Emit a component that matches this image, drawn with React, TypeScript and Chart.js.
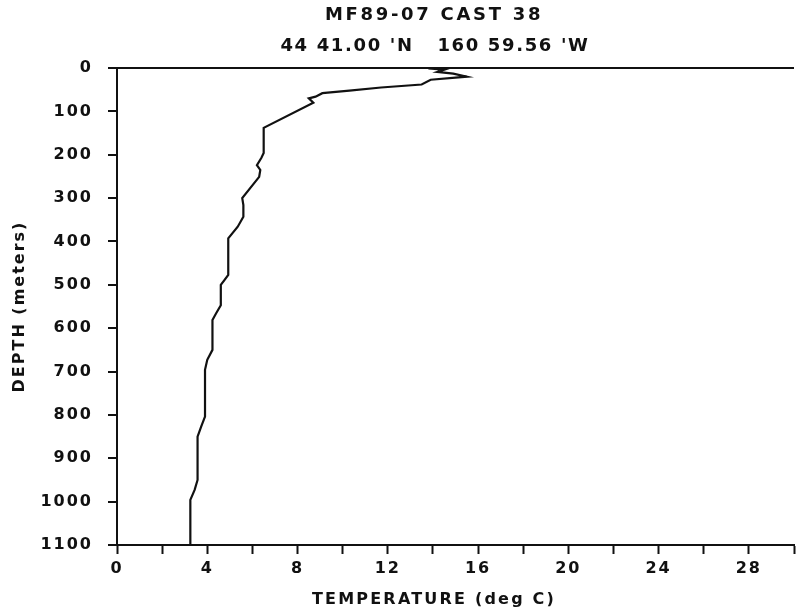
import React, { useEffect, useRef } from 'react';
import { Chart, registerables } from 'chart.js';

Chart.register(...registerables);

// Profile data (depth in metres, temperature in deg C)
const depthM = [1, 4, 9, 13, 20, 27, 38, 45, 52, 58, 66, 70, 80, 138, 196, 207, 224, 235, 251, 300, 316, 343, 366, 393, 477, 489, 500, 547, 565, 581, 650, 673, 696, 804, 827, 850, 950, 973, 996, 1100];
const temperatureC = [13.8, 14.5, 14.2, 14.9, 15.5, 13.9, 13.5, 11.7, 10.3, 9.1, 8.8, 8.5, 8.7, 6.5, 6.5, 6.4, 6.2, 6.35, 6.3, 5.55, 5.6, 5.6, 5.35, 4.93, 4.93, 4.76, 4.6, 4.6, 4.4, 4.23, 4.23, 4.0, 3.9, 3.9, 3.73, 3.57, 3.57, 3.44, 3.25, 3.25];

const titleLines = ['MF89-07 CAST 38', "44 41.00 'N   160 59.56 'W"];
const xAxisTitle = 'TEMPERATURE (deg C)';
const yAxisTitle = 'DEPTH (meters)';

const xRange = [0, 30];
const xTickStep = 2;
const xLabelEvery = 4;
const yRange = [0, 1100];
const yTickStep = 100;

const INK = '#111';
const FONT = '"DejaVu Sans", sans-serif';

export default function App() {
  const ref = useRef<HTMLCanvasElement>(null);

  useEffect(() => {
    const prevMargin = document.body.style.margin;
    document.body.style.margin = '0';
    const canvas = ref.current;
    if (!canvas) return;

    const plotterText = {
      id: 'plotterText',
      beforeUpdate(chart: any) {
        chart.ctx.letterSpacing = '2px';
      },
      beforeDraw(chart: any) {
        const ctx = chart.ctx;
        ctx.save();
        ctx.fillStyle = '#fff';
        ctx.fillRect(0, 0, chart.width, chart.height);
        ctx.restore();
        ctx.letterSpacing = '2px';
      },
      afterDraw(chart: any) {
        const ctx = chart.ctx;
        ctx.save();
        ctx.fillStyle = INK;
        ctx.textAlign = 'center';
        ctx.textBaseline = 'middle';
        ctx.font = `bold 18px ${FONT}`;
        ctx.letterSpacing = '2.7px';
        ctx.fillText(titleLines[0], 434, 15);
        ctx.letterSpacing = '1.65px';
        ctx.fillText(titleLines[1], 435, 46);
        ctx.font = `bold 16px ${FONT}`;
        ctx.letterSpacing = '2.2px';
        ctx.fillText(xAxisTitle, 434, 600);
        ctx.restore();
      },
    };

    const chart = new Chart(canvas, {
      type: 'scatter',
      data: {
        datasets: [
          {
            data: depthM.map((d, i) => ({ x: temperatureC[i], y: d })),
            showLine: true,
            borderColor: INK,
            borderWidth: 2.2,
            pointRadius: 0,
            pointHoverRadius: 0,
            tension: 0,
            fill: false,
          },
        ],
      },
      options: {
        responsive: false,
        animation: false,
        devicePixelRatio: 1,
        layout: { padding: { top: 68, right: 1, left: 0, bottom: 0 } },
        plugins: {
          legend: { display: false },
          tooltip: { enabled: false },
          title: { display: false },
        },
        scales: {
          x: {
            type: 'linear',
            position: 'bottom',
            min: xRange[0],
            max: xRange[1],
            afterFit: (s: any) => { s.height = 70; },
            ticks: {
              stepSize: xTickStep,
              autoSkip: false,
              maxRotation: 0,
              padding: 5,
              color: INK,
              font: { family: FONT, size: 16, weight: 'bold' },
              callback: (v: any) => (Number(v) % xLabelEvery === 0 ? String(v) : ''),
            },
            grid: {
              display: true,
              drawOnChartArea: false,
              drawTicks: true,
              tickLength: 9,
              tickWidth: 2,
              tickColor: INK,
            },
            border: { display: true, color: INK, width: 2 },
          },
          y: {
            type: 'linear',
            position: 'left',
            reverse: true,
            min: yRange[0],
            max: yRange[1],
            afterFit: (s: any) => { s.width = 117; },
            ticks: {
              stepSize: yTickStep,
              autoSkip: false,
              padding: 15,
              color: INK,
              font: { family: FONT, size: 16, weight: 'bold' },
              callback: (v: any) => String(v),
            },
            grid: {
              display: true,
              drawOnChartArea: true,
              drawTicks: true,
              tickLength: 9,
              tickWidth: 2,
              tickColor: INK,
              lineWidth: 2,
              color: (c: any) => (c.tick && c.tick.value === 0 ? INK : 'rgba(0,0,0,0)'),
            },
            border: { display: true, color: INK, width: 2 },
            title: {
              display: true,
              text: yAxisTitle,
              color: INK,
              font: { family: FONT, size: 16, weight: 'bold' },
              padding: { top: 10, bottom: 0 },
            },
          },
        },
      },
      plugins: [plotterText],
    } as any);

    return () => {
      chart.destroy();
      document.body.style.margin = prevMargin;
    };
  }, []);

  return (
    <div style={{ position: 'absolute', left: 0, top: 0, width: 799, height: 615, background: '#fff' }}>
      <canvas ref={ref} width={799} height={615} style={{ display: 'block' }} />
    </div>
  );
}
